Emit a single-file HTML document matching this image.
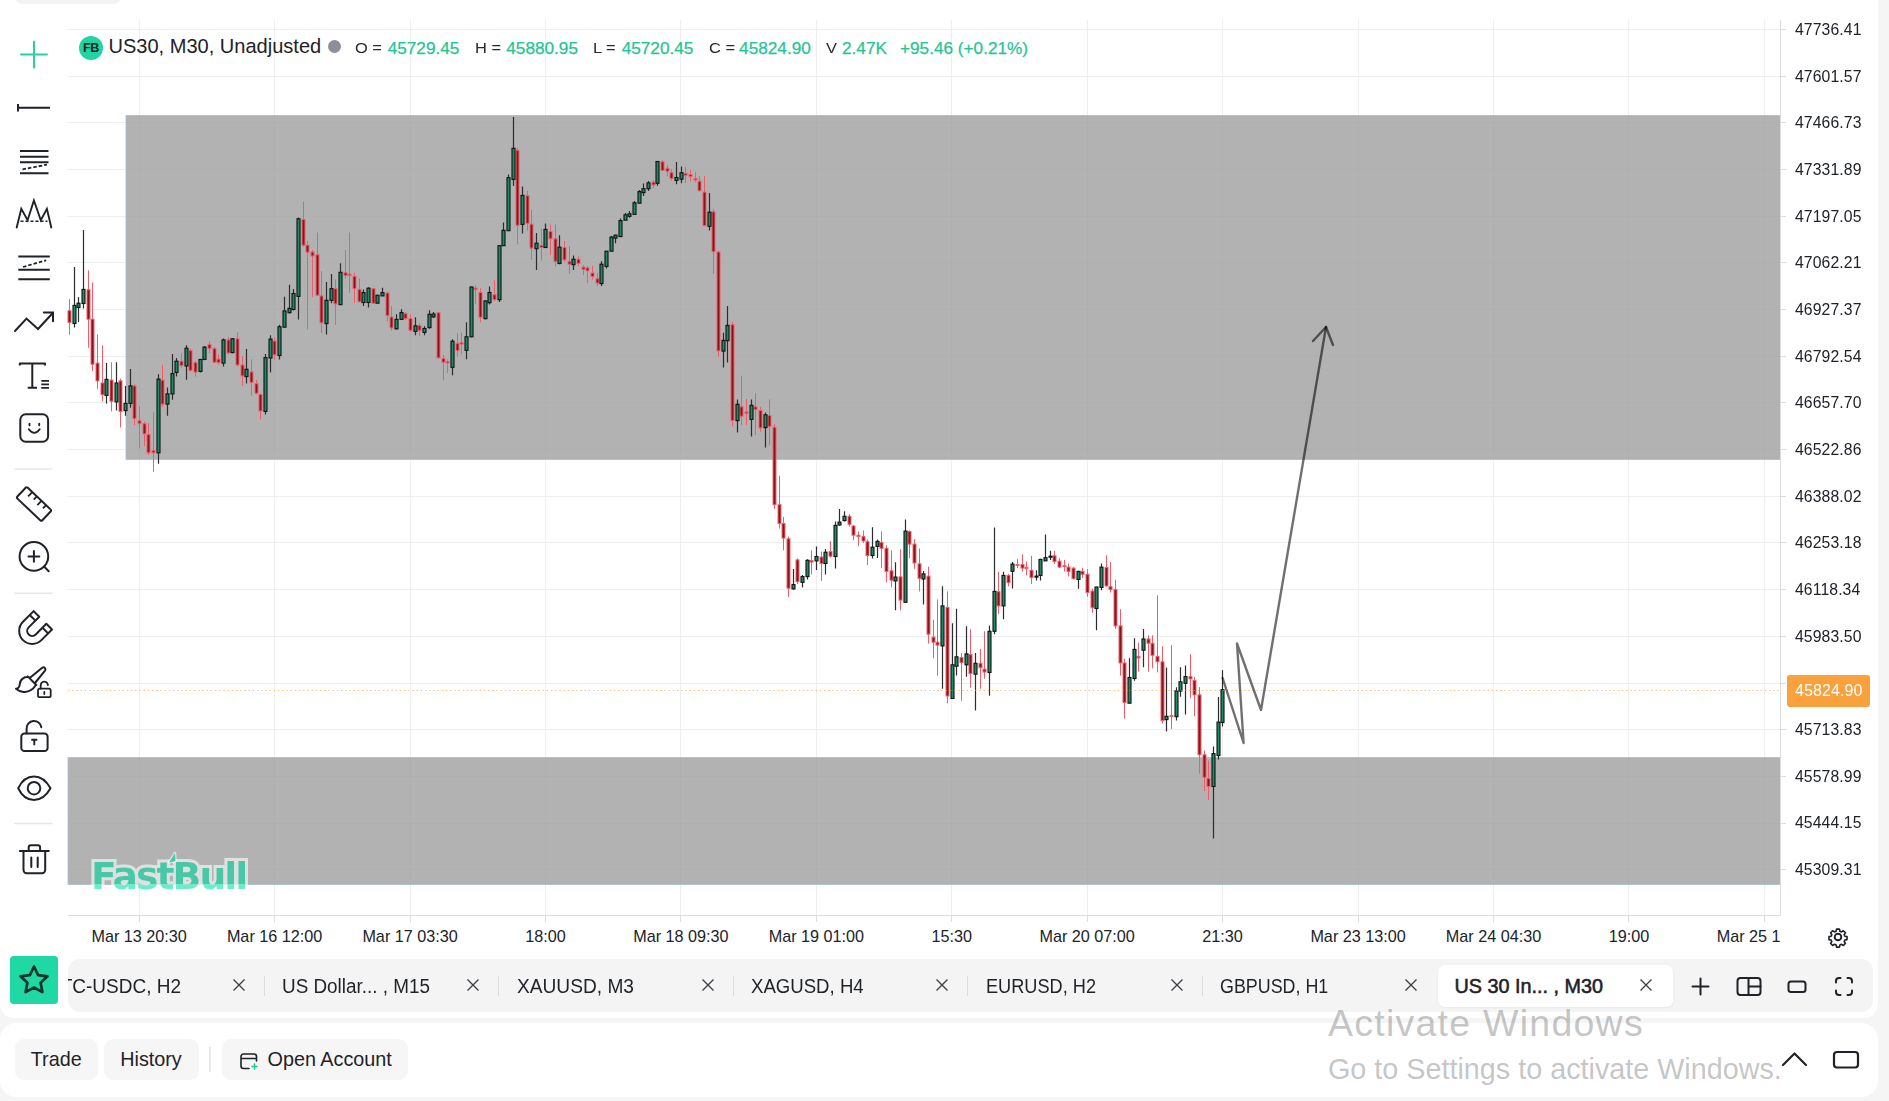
<!DOCTYPE html>
<html lang="en"><head><meta charset="utf-8"><title>US30 M30 chart</title>
<style>
*{box-sizing:border-box;margin:0;padding:0}
html,body{width:1889px;height:1101px;overflow:hidden;background:#f5f5f6;font-family:"Liberation Sans",sans-serif;color:#1f2227}
.main{position:absolute;left:0;top:-20px;width:1878px;height:1037.5px;background:#fff;border-radius:0 0 14px 14px}
.pill{position:absolute;left:14px;top:0;width:108px;height:23.5px;border-radius:9px;background:#f3f3f4}
.chart{position:absolute;left:0;top:0}
.fb{position:absolute;left:79px;top:35.5px;width:24px;height:24px;border-radius:50%;background:#20d4a3;color:#0c2a22;font-weight:bold;font-size:12.5px;display:flex;align-items:center;justify-content:center;letter-spacing:-0.4px}
.sym{position:absolute;left:108.5px;top:34.2px;font-size:20.05px;line-height:24px;color:#1f2227;white-space:nowrap}
.dot{position:absolute;left:328px;top:40px;width:13px;height:13px;border-radius:50%;background:#8e8e9a}
.lg{position:absolute;top:38.4px;font-size:15.5px;line-height:20px;color:#26292e;white-space:nowrap;transform:scaleX(1.06);transform-origin:0 50%}
.lv{position:absolute;top:38px;font-size:17.2px;line-height:20px;color:#1fc592;white-space:nowrap;-webkit-text-stroke:0.25px #1fc592}
.pl{position:absolute;left:1795px;width:80px;font-size:15.75px;line-height:20px;color:#202328;letter-spacing:0.1px}
.cur{position:absolute;left:1786.5px;top:675px;width:83px;height:31.5px;border-radius:3px;background:#f9a13c;color:#fff;font-size:16px;line-height:31.5px;padding-left:8.5px;letter-spacing:0.1px}
.tl{position:absolute;top:926px;width:120px;text-align:center;font-size:16.2px;line-height:20px;color:#202328}
.axisclip{position:absolute;left:0;top:0;width:1780px;height:960px;overflow:hidden}
.star{position:absolute;left:10px;top:956px;width:48px;height:47.5px;border-radius:4px;background:#1fd8a4}
.tabbar{position:absolute;left:68px;top:959px;width:1804.5px;height:52.5px;border-radius:12px;background:#f4f4f5;overflow:hidden}
.tab{position:absolute;top:0;height:52px;width:234.5px;font-size:20px;line-height:52px;color:#1f2227;border-right:0}
.tab:after{content:"";position:absolute;right:0;top:16.5px;height:20px;width:1px;background:#dcdde0}
.tab:nth-child(6):after{display:none}
.tab .tt{position:absolute;left:17.5px;top:0.8px;white-space:nowrap;transform:scaleX(0.937);transform-origin:0 50%}
.tab .tx{position:absolute;left:201.5px;top:19px}
.atab{position:absolute;left:1370px;top:5.5px;width:235px;height:42.5px;border-radius:7px;background:#fff;font-size:20px;line-height:42px;color:#1f2227;box-shadow:0 1px 3px rgba(0,0,0,0.05)}
.atab .tt{position:absolute;left:16.5px;top:0.5px;white-space:nowrap;font-weight:normal;font-size:19.8px;-webkit-text-stroke:0.55px #1f2227}
.atab .tx{position:absolute;left:201px;top:13.5px}
.bottom{position:absolute;left:0;top:1022.5px;width:1878px;height:74.5px;background:#fff;border-radius:16px}
.btn{position:absolute;top:16px;height:41.5px;border-radius:9px;background:#f6f6f7;font-size:19.8px;line-height:41.5px;text-align:center;color:#1f2227}
.sep{position:absolute;left:209px;top:24.5px;width:1.5px;height:25px;background:#e8e9eb}
.aw1{position:absolute;left:1328px;top:1001px;font-size:37.5px;line-height:44px;color:rgba(125,125,125,0.45);white-space:nowrap;letter-spacing:1.25px}
.aw2{position:absolute;left:1328px;top:1052px;font-size:28.75px;line-height:34px;color:rgba(125,125,125,0.45);white-space:nowrap}
.wm,.wm2{position:absolute;left:91px;top:853px;font-size:37.7px;line-height:46px;height:46px;font-weight:bold;font-family:"DejaVu Sans","Liberation Sans",sans-serif;letter-spacing:-1.95px;white-space:nowrap}
.wm{color:#fff;-webkit-text-stroke:6px #fff;opacity:0.6}
.wm2{color:transparent;background:linear-gradient(#49c8a8 0,#49c8a8 31px,#6cecca 31px,#6cecca 46px);-webkit-background-clip:text;background-clip:text}
</style></head><body>
<div class="main"><div class="pill"></div></div>
<svg class="chart" width="1889" height="960" viewBox="0 0 1889 960">
<g stroke="#edeef0" stroke-width="1" fill="none"><path d="M68 29.5H1780"/><path d="M68 76.5H1780"/><path d="M68 122.5H1780"/><path d="M68 169.5H1780"/><path d="M68 216.5H1780"/><path d="M68 262.5H1780"/><path d="M68 309.5H1780"/><path d="M68 356.5H1780"/><path d="M68 402.5H1780"/><path d="M68 449.5H1780"/><path d="M68 496.5H1780"/><path d="M68 542.5H1780"/><path d="M68 589.5H1780"/><path d="M68 636.5H1780"/><path d="M68 683.5H1780"/><path d="M68 729.5H1780"/><path d="M68 776.5H1780"/><path d="M68 823.5H1780"/><path d="M68 869.5H1780"/><path d="M139.5 20V915"/><path d="M274.5 20V915"/><path d="M410.5 20V915"/><path d="M545.5 20V915"/><path d="M680.5 20V915"/><path d="M816.5 20V915"/><path d="M951.5 20V915"/><path d="M1087.5 20V915"/><path d="M1222.5 20V915"/><path d="M1358.5 20V915"/><path d="M1493.5 20V915"/><path d="M1628.5 20V915"/><path d="M1764.5 20V915"/></g>
<g stroke="#dcdde0" stroke-width="1" fill="none"><path d="M1780.5 20V915.5"/><path d="M68 915.5H1780.5"/><path d="M1780 29.5H1786"/><path d="M1780 76.5H1786"/><path d="M1780 122.5H1786"/><path d="M1780 169.5H1786"/><path d="M1780 216.5H1786"/><path d="M1780 262.5H1786"/><path d="M1780 309.5H1786"/><path d="M1780 356.5H1786"/><path d="M1780 402.5H1786"/><path d="M1780 449.5H1786"/><path d="M1780 496.5H1786"/><path d="M1780 542.5H1786"/><path d="M1780 589.5H1786"/><path d="M1780 636.5H1786"/><path d="M1780 683.5H1786"/><path d="M1780 729.5H1786"/><path d="M1780 776.5H1786"/><path d="M1780 823.5H1786"/><path d="M1780 869.5H1786"/><path d="M139.5 915V922"/><path d="M274.5 915V922"/><path d="M410.5 915V922"/><path d="M545.5 915V922"/><path d="M680.5 915V922"/><path d="M816.5 915V922"/><path d="M951.5 915V922"/><path d="M1087.5 915V922"/><path d="M1222.5 915V922"/><path d="M1358.5 915V922"/><path d="M1493.5 915V922"/><path d="M1628.5 915V922"/><path d="M1764.5 915V922"/></g>
<svg x="0" y="0" width="1780" height="915"><rect x="126" y="115.5" width="1700" height="344" fill="#a1a1a1" fill-opacity="0.82" stroke="#a9bcd8" stroke-opacity="0.8" stroke-width="1"/>
<rect x="68" y="757.5" width="1760" height="127" fill="#a1a1a1" fill-opacity="0.82" stroke="#a9bcd8" stroke-opacity="0.8" stroke-width="1"/></svg>
<path d="M69.5 299.1V334.7M88.5 270.3V347.8M92.5 282.4V371.0M97.5 334.4V388.8M102.5 345.3V401.2M111.5 362.3V411.4M120.5 378.7V427.4M134.5 384.5V425.2M139.5 406.3V448.4M144.5 421.5V446.2M148.5 423.0V455.0M153.5 412.1V471.7M162.5 364.6V407.0M181.5 353.2V368.1M190.5 348.6V371.8M195.5 360.8V376.5M209.5 341.3V353.0M214.5 347.1V363.1M218.5 354.4V364.6M228.5 337.0V354.4M237.5 332.3V366.4M242.5 356.2V386.0M251.5 359.5V395.8M256.5 379.9V394.5M260.5 393.2V419.3M274.5 337.6V359.9M303.5 201.4V247.0M307.5 240.8V329.4M312.5 250.0V297.0M317.5 232.5V296.0M321.5 271.2V333.0M335.5 279.2V325.0M345.5 249.7V278.5M349.5 232.5V293.0M354.5 272.7V303.2M359.5 278.5V302.5M373.5 288.0V303.9M387.5 291.6V321.4M391.5 306.1V330.8M405.5 312.1V320.1M410.5 314.3V331.7M419.5 323.0V336.1M438.5 312.1V358.6M443.5 355.0V380.4M447.5 359.3V373.1M457.5 333.2V356.4M461.5 332.4V354.2M475.5 285.2V304.1M480.5 288.1V322.3M494.5 280.1V301.2M517.5 147.9V244.5M527.5 190.7V230.7M531.5 209.6V259.8M541.5 228.6V260.6M550.5 224.3V254.8M555.5 224.3V266.4M564.5 241.0V262.1M569.5 246.1V273.7M578.5 256.2V266.4M583.5 265.0V275.1M587.5 266.4V283.1M592.5 265.7V279.5M597.5 273.0V286.0M653.5 180.0V188.0M662.5 160.3V171.2M667.5 165.4V176.3M671.5 169.1V180.7M685.5 166.9V182.9M690.5 169.8V181.4M695.5 172.0V182.1M699.5 176.2V192.1M704.5 176.2V226.3M713.5 208.8V274.2M718.5 250.6V356.7M732.5 321.8V426.4M741.5 375.6V425.0M746.5 398.8V425.0M755.5 393.0V435.1M760.5 406.8V432.2M769.5 399.5V445.3M774.5 424.3V509.0M779.5 475.6V528.6M783.5 517.0V550.4M788.5 536.6V596.9M797.5 558.4V583.9M811.5 550.4V574.4M821.5 551.6V580.9M830.5 541.0V557.7M849.5 514.1V526.5M853.5 525.0V540.3M858.5 531.5V546.1M863.5 530.4V543.2M867.5 539.5V565.0M881.5 531.3V567.9M886.5 545.3V582.4M891.5 550.4V587.5M900.5 549.2V610.3M909.5 530.3V558.0M914.5 539.1V568.8M919.5 548.5V591.4M928.5 566.7V643.5M933.5 619.7V658.2M937.5 599.4V675.6M947.5 591.4V703.4M961.5 653.1V701.1M970.5 629.2V687.6M980.5 648.8V688.7M984.5 631.3V678.6M998.5 571.8V613.9M1008.5 573.9V586.3M1017.5 558.7V568.1M1022.5 554.3V571.8M1026.5 561.6V575.4M1031.5 555.8V584.1M1054.5 550.7V563.8M1059.5 558.3V568.1M1064.5 559.8V571.4M1068.5 563.4V576.5M1073.5 567.1V579.4M1082.5 567.8V578.0M1087.5 569.2V596.8M1092.5 588.8V612.8M1106.5 555.4V586.7M1110.5 562.0V592.5M1115.5 579.7V628.8M1120.5 609.2V675.6M1124.5 658.6V718.5M1138.5 642.6V671.7M1148.5 635.3V671.7M1152.5 635.3V668.3M1157.5 595.4V672.3M1162.5 646.2V723.5M1171.5 645.1V728.9M1190.5 654.2V698.1M1194.5 677.1V716.3M1199.5 687.2V773.7M1204.5 750.4V791.1M1208.5 760.6V800.0" stroke="#f25c68" stroke-width="1" fill="none"/>
<g fill="#86161e" stroke="#f0606b" stroke-width="1"><rect x="68.0" y="310.7" width="3" height="11.7"/><rect x="87.0" y="289.7" width="3" height="29.5"/><rect x="91.0" y="319.2" width="3" height="45.0"/><rect x="96.0" y="363.1" width="3" height="17.8"/><rect x="101.0" y="383.0" width="3" height="11.7"/><rect x="110.0" y="380.1" width="3" height="21.1"/><rect x="119.0" y="380.9" width="3" height="30.5"/><rect x="133.0" y="385.9" width="3" height="32.7"/><rect x="138.0" y="420.8" width="3" height="2.9"/><rect x="143.0" y="423.7" width="3" height="10.2"/><rect x="147.0" y="434.6" width="3" height="18.2"/><rect x="152.0" y="450.6" width="3" height="2.2"/><rect x="161.0" y="380.1" width="3" height="24.0"/><rect x="180.0" y="361.2" width="3" height="4.4"/><rect x="189.0" y="350.6" width="3" height="19.8"/><rect x="194.0" y="362.7" width="3" height="9.4"/><rect x="208.0" y="344.5" width="3" height="4.1"/><rect x="213.0" y="348.6" width="3" height="13.7"/><rect x="217.0" y="359.1" width="3" height="3.6"/><rect x="227.0" y="339.9" width="3" height="13.1"/><rect x="236.0" y="338.8" width="3" height="26.2"/><rect x="241.0" y="365.0" width="3" height="10.9"/><rect x="250.0" y="371.9" width="3" height="10.5"/><rect x="255.0" y="383.7" width="3" height="9.5"/><rect x="259.0" y="394.5" width="3" height="16.5"/><rect x="273.0" y="341.0" width="3" height="13.8"/><rect x="302.0" y="219.5" width="3" height="25.7"/><rect x="306.0" y="245.2" width="3" height="7.0"/><rect x="311.0" y="252.0" width="3" height="4.0"/><rect x="316.0" y="254.8" width="3" height="40.4"/><rect x="320.0" y="295.9" width="3" height="26.9"/><rect x="334.0" y="288.7" width="3" height="15.2"/><rect x="344.0" y="272.7" width="3" height="2.9"/><rect x="348.0" y="274.1" width="3" height="1.5"/><rect x="353.0" y="276.3" width="3" height="12.4"/><rect x="358.0" y="289.4" width="3" height="12.4"/><rect x="372.0" y="288.7" width="3" height="14.5"/><rect x="386.0" y="293.0" width="3" height="22.6"/><rect x="390.0" y="317.0" width="3" height="10.9"/><rect x="404.0" y="313.6" width="3" height="5.0"/><rect x="409.0" y="318.6" width="3" height="11.7"/><rect x="418.0" y="325.6" width="3" height="4.7"/><rect x="437.0" y="312.8" width="3" height="45.1"/><rect x="442.0" y="358.6" width="3" height="3.6"/><rect x="446.0" y="361.5" width="3" height="1.5"/><rect x="456.0" y="343.3" width="3" height="7.3"/><rect x="460.0" y="342.6" width="3" height="1.5"/><rect x="474.0" y="288.1" width="3" height="1.5"/><rect x="479.0" y="292.5" width="3" height="24.7"/><rect x="493.0" y="294.7" width="3" height="5.0"/><rect x="516.0" y="150.3" width="3" height="75.0"/><rect x="526.0" y="195.8" width="3" height="27.6"/><rect x="530.0" y="224.2" width="3" height="23.9"/><rect x="540.0" y="245.3" width="3" height="2.2"/><rect x="549.0" y="231.5" width="3" height="7.3"/><rect x="554.0" y="238.8" width="3" height="22.5"/><rect x="563.0" y="247.5" width="3" height="12.4"/><rect x="568.0" y="261.3" width="3" height="2.9"/><rect x="577.0" y="259.2" width="3" height="4.3"/><rect x="582.0" y="267.1" width="3" height="2.2"/><rect x="586.0" y="267.9" width="3" height="2.9"/><rect x="591.0" y="273.0" width="3" height="3.6"/><rect x="596.0" y="278.8" width="3" height="4.3"/><rect x="652.0" y="182.1" width="3" height="2.9"/><rect x="661.0" y="161.8" width="3" height="8.7"/><rect x="666.0" y="168.3" width="3" height="2.9"/><rect x="670.0" y="172.7" width="3" height="5.8"/><rect x="684.0" y="173.4" width="3" height="2.2"/><rect x="689.0" y="174.6" width="3" height="2.0"/><rect x="694.0" y="178.5" width="3" height="1.5"/><rect x="698.0" y="181.2" width="3" height="9.5"/><rect x="703.0" y="192.1" width="3" height="33.5"/><rect x="712.0" y="211.8" width="3" height="39.9"/><rect x="717.0" y="252.0" width="3" height="98.9"/><rect x="731.0" y="324.7" width="3" height="95.9"/><rect x="740.0" y="406.8" width="3" height="9.4"/><rect x="745.0" y="411.9" width="3" height="1.4"/><rect x="754.0" y="406.8" width="3" height="2.9"/><rect x="759.0" y="410.4" width="3" height="17.5"/><rect x="768.0" y="415.5" width="3" height="10.9"/><rect x="773.0" y="427.2" width="3" height="77.5"/><rect x="778.0" y="504.7" width="3" height="18.9"/><rect x="782.0" y="523.6" width="3" height="14.5"/><rect x="787.0" y="538.8" width="3" height="49.4"/><rect x="796.0" y="559.9" width="3" height="21.8"/><rect x="810.0" y="560.6" width="3" height="1.5"/><rect x="820.0" y="557.0" width="3" height="6.5"/><rect x="829.0" y="551.6" width="3" height="4.6"/><rect x="848.0" y="516.3" width="3" height="8.0"/><rect x="852.0" y="526.0" width="3" height="9.2"/><rect x="857.0" y="535.2" width="3" height="1.4"/><rect x="862.0" y="536.6" width="3" height="4.4"/><rect x="866.0" y="541.7" width="3" height="13.8"/><rect x="880.0" y="542.4" width="3" height="5.9"/><rect x="885.0" y="548.3" width="3" height="23.2"/><rect x="890.0" y="570.8" width="3" height="9.4"/><rect x="899.0" y="576.8" width="3" height="23.3"/><rect x="908.0" y="531.5" width="3" height="12.6"/><rect x="913.0" y="544.1" width="3" height="18.9"/><rect x="918.0" y="563.8" width="3" height="14.5"/><rect x="927.0" y="576.1" width="3" height="58.1"/><rect x="932.0" y="637.1" width="3" height="5.1"/><rect x="936.0" y="642.2" width="3" height="2.9"/><rect x="946.0" y="607.4" width="3" height="88.6"/><rect x="960.0" y="657.5" width="3" height="5.1"/><rect x="969.0" y="654.6" width="3" height="18.9"/><rect x="979.0" y="663.3" width="3" height="4.4"/><rect x="983.0" y="669.1" width="3" height="2.9"/><rect x="997.0" y="591.7" width="3" height="14.2"/><rect x="1007.0" y="575.4" width="3" height="7.3"/><rect x="1016.0" y="564.5" width="3" height="1.0"/><rect x="1021.0" y="564.5" width="3" height="3.6"/><rect x="1025.0" y="567.4" width="3" height="1.0"/><rect x="1030.0" y="570.3" width="3" height="7.3"/><rect x="1053.0" y="555.8" width="3" height="5.8"/><rect x="1058.0" y="561.2" width="3" height="5.9"/><rect x="1063.0" y="565.6" width="3" height="1.0"/><rect x="1067.0" y="567.1" width="3" height="4.3"/><rect x="1072.0" y="568.1" width="3" height="10.6"/><rect x="1081.0" y="571.4" width="3" height="2.9"/><rect x="1086.0" y="574.3" width="3" height="18.2"/><rect x="1091.0" y="591.0" width="3" height="16.7"/><rect x="1105.0" y="567.5" width="3" height="18.4"/><rect x="1109.0" y="586.7" width="3" height="2.9"/><rect x="1114.0" y="589.6" width="3" height="36.3"/><rect x="1119.0" y="625.9" width="3" height="37.1"/><rect x="1123.0" y="663.0" width="3" height="39.5"/><rect x="1137.0" y="656.4" width="3" height="1.5"/><rect x="1147.0" y="639.0" width="3" height="4.3"/><rect x="1151.0" y="643.3" width="3" height="12.0"/><rect x="1156.0" y="656.4" width="3" height="5.4"/><rect x="1161.0" y="661.8" width="3" height="58.8"/><rect x="1170.0" y="715.6" width="3" height="1.0"/><rect x="1189.0" y="676.6" width="3" height="2.3"/><rect x="1193.0" y="680.4" width="3" height="14.5"/><rect x="1198.0" y="694.9" width="3" height="59.9"/><rect x="1203.0" y="754.8" width="3" height="22.5"/><rect x="1207.0" y="778.5" width="3" height="8.0"/></g>
<path d="M74.5 267.1V327.4M78.5 296.9V322.1M83.5 230.1V308.6M106.5 363.1V403.4M116.5 362.3V410.6M125.5 385.9V415.7M130.5 368.9V407.7M158.5 374.3V463.7M167.5 387.4V415.7M172.5 354.0V399.7M176.5 358.0V376.5M186.5 345.3V379.7M200.5 359.1V372.4M204.5 346.0V360.2M223.5 338.4V366.6M232.5 338.1V353.3M246.5 349.0V383.6M265.5 354.1V414.5M270.5 335.2V372.5M279.5 324.7V359.4M284.5 296.7V327.2M289.5 284.8V313.4M293.5 289.1V310.5M298.5 217.5V319.6M326.5 282.1V334.4M331.5 274.1V303.2M340.5 263.2V304.7M363.5 289.4V306.1M368.5 287.2V307.6M377.5 294.9V303.2M382.5 287.7V295.9M396.5 314.3V329.5M401.5 309.2V320.1M415.5 317.2V335.3M424.5 326.2V335.3M429.5 310.2V328.8M433.5 312.1V317.9M452.5 339.3V375.3M466.5 322.3V359.3M471.5 286.4V337.2M485.5 300.5V319.4M489.5 286.4V304.4M499.5 245.3V301.9M503.5 222.4V245.7M508.5 174.5V230.7M513.5 116.9V186.1M522.5 186.4V233.6M536.5 233.0V270.0M545.5 223.6V247.5M559.5 235.2V264.2M573.5 255.5V270.0M601.5 261.3V286.0M606.5 251.2V268.6M611.5 235.9V251.2M615.5 234.4V243.2M620.5 218.5V236.6M625.5 213.1V220.2M629.5 210.9V217.7M634.5 201.0V214.4M639.5 190.1V203.2M643.5 183.6V195.9M648.5 181.0V191.1M657.5 161.5V185.8M676.5 162.1V184.3M681.5 166.4V183.3M709.5 192.9V230.6M723.5 332.7V367.6M727.5 306.1V362.5M737.5 399.5V432.5M751.5 399.5V436.6M765.5 412.6V447.5M793.5 569.0V589.7M802.5 575.1V587.5M807.5 559.2V579.5M816.5 546.4V570.0M825.5 549.0V574.4M835.5 521.4V568.6M839.5 509.0V525.7M844.5 511.2V521.4M872.5 527.2V558.4M877.5 539.5V558.0M895.5 562.3V610.3M905.5 519.4V603.0M923.5 571.0V604.4M942.5 586.3V688.7M952.5 623.3V698.9M956.5 608.8V675.6M966.5 626.2V676.8M975.5 653.1V710.5M989.5 625.5V695.7M994.5 527.4V634.2M1003.5 571.8V619.3M1012.5 562.0V588.5M1036.5 570.3V580.5M1040.5 558.7V580.5M1045.5 534.4V561.1M1050.5 550.7V560.1M1078.5 570.7V588.8M1096.5 586.7V630.3M1101.5 563.4V590.3M1129.5 658.2V703.2M1134.5 638.3V680.7M1143.5 629.1V667.3M1166.5 667.6V731.5M1176.5 687.2V720.6M1180.5 667.3V696.7M1185.5 665.4V714.4M1213.5 746.4V838.4M1218.5 697.0V759.4M1222.5 670.2V726.5" stroke="#2a2c2f" stroke-width="1.2" fill="none"/>
<g fill="#1c8c63" stroke="#101214" stroke-width="1.1"><rect x="73.0" y="305.4" width="3" height="18.1"/><rect x="77.0" y="303.2" width="3" height="4.3"/><rect x="82.0" y="289.4" width="3" height="14.1"/><rect x="105.0" y="379.4" width="3" height="16.0"/><rect x="115.0" y="383.0" width="3" height="18.9"/><rect x="124.0" y="403.4" width="3" height="7.2"/><rect x="129.0" y="385.9" width="3" height="17.5"/><rect x="157.0" y="379.1" width="3" height="73.7"/><rect x="166.0" y="393.9" width="3" height="10.2"/><rect x="171.0" y="373.6" width="3" height="20.3"/><rect x="175.0" y="361.2" width="3" height="11.2"/><rect x="185.0" y="348.2" width="3" height="17.8"/><rect x="199.0" y="359.4" width="3" height="12.0"/><rect x="203.0" y="347.1" width="3" height="12.3"/><rect x="222.0" y="339.9" width="3" height="23.2"/><rect x="231.0" y="338.8" width="3" height="13.8"/><rect x="245.0" y="369.3" width="3" height="7.3"/><rect x="264.0" y="357.6" width="3" height="53.8"/><rect x="269.0" y="339.1" width="3" height="18.9"/><rect x="278.0" y="326.7" width="3" height="28.8"/><rect x="283.0" y="310.9" width="3" height="16.3"/><rect x="288.0" y="308.3" width="3" height="4.4"/><rect x="292.0" y="293.5" width="3" height="16.0"/><rect x="297.0" y="218.8" width="3" height="77.6"/><rect x="325.0" y="300.3" width="3" height="23.3"/><rect x="330.0" y="288.7" width="3" height="11.6"/><rect x="339.0" y="272.3" width="3" height="32.4"/><rect x="362.0" y="292.6" width="3" height="9.9"/><rect x="367.0" y="288.2" width="3" height="14.3"/><rect x="376.0" y="295.2" width="3" height="8.0"/><rect x="381.0" y="292.6" width="3" height="3.3"/><rect x="395.0" y="319.4" width="3" height="9.4"/><rect x="400.0" y="312.5" width="3" height="6.9"/><rect x="414.0" y="325.9" width="3" height="5.5"/><rect x="423.0" y="328.5" width="3" height="3.9"/><rect x="428.0" y="314.3" width="3" height="13.3"/><rect x="432.0" y="314.0" width="3" height="2.9"/><rect x="451.0" y="341.2" width="3" height="26.1"/><rect x="465.0" y="336.8" width="3" height="13.5"/><rect x="470.0" y="287.0" width="3" height="49.8"/><rect x="484.0" y="300.9" width="3" height="17.7"/><rect x="488.0" y="292.5" width="3" height="10.2"/><rect x="498.0" y="245.7" width="3" height="54.0"/><rect x="502.0" y="230.3" width="3" height="15.4"/><rect x="507.0" y="177.7" width="3" height="53.0"/><rect x="512.0" y="148.3" width="3" height="31.1"/><rect x="521.0" y="195.4" width="3" height="29.0"/><rect x="535.0" y="243.2" width="3" height="5.5"/><rect x="544.0" y="229.4" width="3" height="18.1"/><rect x="558.0" y="247.2" width="3" height="16.3"/><rect x="572.0" y="259.2" width="3" height="5.5"/><rect x="600.0" y="264.2" width="3" height="19.4"/><rect x="605.0" y="251.2" width="3" height="15.2"/><rect x="610.0" y="237.1" width="3" height="14.1"/><rect x="614.0" y="235.2" width="3" height="2.9"/><rect x="619.0" y="220.6" width="3" height="16.0"/><rect x="624.0" y="214.8" width="3" height="5.4"/><rect x="628.0" y="213.8" width="3" height="2.5"/><rect x="633.0" y="202.8" width="3" height="11.6"/><rect x="638.0" y="191.6" width="3" height="11.6"/><rect x="642.0" y="188.7" width="3" height="3.9"/><rect x="647.0" y="182.9" width="3" height="5.8"/><rect x="656.0" y="161.5" width="3" height="21.8"/><rect x="675.0" y="177.5" width="3" height="2.9"/><rect x="680.0" y="172.7" width="3" height="6.5"/><rect x="708.0" y="212.2" width="3" height="14.1"/><rect x="722.0" y="340.4" width="3" height="10.7"/><rect x="726.0" y="325.4" width="3" height="15.3"/><rect x="736.0" y="404.3" width="3" height="16.3"/><rect x="750.0" y="405.3" width="3" height="14.1"/><rect x="764.0" y="414.8" width="3" height="12.8"/><rect x="792.0" y="584.6" width="3" height="4.3"/><rect x="801.0" y="576.6" width="3" height="5.8"/><rect x="806.0" y="560.3" width="3" height="16.3"/><rect x="815.0" y="556.5" width="3" height="4.4"/><rect x="824.0" y="552.2" width="3" height="11.3"/><rect x="834.0" y="525.4" width="3" height="31.1"/><rect x="838.0" y="522.1" width="3" height="2.9"/><rect x="843.0" y="516.3" width="3" height="4.3"/><rect x="871.0" y="547.2" width="3" height="8.3"/><rect x="876.0" y="541.4" width="3" height="5.0"/><rect x="894.0" y="577.1" width="3" height="3.8"/><rect x="904.0" y="531.1" width="3" height="71.2"/><rect x="922.0" y="573.9" width="3" height="5.1"/><rect x="941.0" y="605.9" width="3" height="40.0"/><rect x="951.0" y="664.8" width="3" height="33.7"/><rect x="955.0" y="656.8" width="3" height="9.4"/><rect x="965.0" y="653.9" width="3" height="10.9"/><rect x="974.0" y="663.3" width="3" height="10.9"/><rect x="988.0" y="631.3" width="3" height="41.2"/><rect x="993.0" y="591.4" width="3" height="39.9"/><rect x="1002.0" y="575.4" width="3" height="30.5"/><rect x="1011.0" y="564.1" width="3" height="7.2"/><rect x="1035.0" y="576.1" width="3" height="1.0"/><rect x="1039.0" y="559.4" width="3" height="16.0"/><rect x="1044.0" y="557.7" width="3" height="3.2"/><rect x="1049.0" y="556.2" width="3" height="1.0"/><rect x="1077.0" y="571.4" width="3" height="8.0"/><rect x="1095.0" y="587.0" width="3" height="21.5"/><rect x="1100.0" y="567.1" width="3" height="20.3"/><rect x="1128.0" y="677.5" width="3" height="25.7"/><rect x="1133.0" y="649.4" width="3" height="29.1"/><rect x="1142.0" y="639.0" width="3" height="11.2"/><rect x="1165.0" y="716.3" width="3" height="3.3"/><rect x="1175.0" y="690.9" width="3" height="25.8"/><rect x="1179.0" y="681.8" width="3" height="9.3"/><rect x="1184.0" y="676.6" width="3" height="6.7"/><rect x="1212.0" y="753.6" width="3" height="32.9"/><rect x="1217.0" y="722.1" width="3" height="33.4"/><rect x="1221.0" y="689.7" width="3" height="32.8"/></g>
<path d="M68 690.5H1780" stroke="#f7a243" stroke-opacity="0.7" stroke-width="1" stroke-dasharray="1.3 2.9" fill="none"/>
<g stroke="#000" stroke-opacity="0.56" stroke-width="2.4" fill="none" stroke-linejoin="round" stroke-linecap="round"><path d="M1222.6 678L1243.6 743L1237 643.5L1261 710L1326 327"/><path d="M1313 341L1326 327L1333 345"/></g>
</svg>
<div class="wm">FastBull</div><div class="wm2">FastBull</div>
<svg style="position:absolute;left:160px;top:848px" width="24" height="18" viewBox="0 0 24 18"><path d="M9 14.500L15 5L15.500 13Z" fill="#49c8a8" stroke="rgba(255,255,255,0.6)" stroke-width="2.5" stroke-linejoin="round" paint-order="stroke"/></svg>
<div class="fb">FB</div><div class="sym">US30, M30, Unadjusted</div><div class="dot"></div>
<span class="lg" style="left:355.3px">O =</span><span class="lv" style="left:387.7px">45729.45</span>
<span class="lg" style="left:474.7px">H =</span><span class="lv" style="left:506.3px">45880.95</span>
<span class="lg" style="left:593.3px">L =</span><span class="lv" style="left:621.7px">45720.45</span>
<span class="lg" style="left:708.6px">C =</span><span class="lv" style="left:739.1px">45824.90</span>
<span class="lg" style="left:825.7px">V</span><span class="lv" style="left:842px">2.47K</span>
<span class="lv" style="left:900px">+95.46 (+0.21%)</span>
<div class="pl" style="top:19.8px">47736.41</div><div class="pl" style="top:66.5px">47601.57</div><div class="pl" style="top:113.2px">47466.73</div><div class="pl" style="top:159.8px">47331.89</div><div class="pl" style="top:206.5px">47197.05</div><div class="pl" style="top:253.2px">47062.21</div><div class="pl" style="top:299.9px">46927.37</div><div class="pl" style="top:346.6px">46792.54</div><div class="pl" style="top:393.2px">46657.70</div><div class="pl" style="top:439.9px">46522.86</div><div class="pl" style="top:486.6px">46388.02</div><div class="pl" style="top:533.3px">46253.18</div><div class="pl" style="top:580.0px">46118.34</div><div class="pl" style="top:626.6px">45983.50</div><div class="pl" style="top:720.0px">45713.83</div><div class="pl" style="top:766.7px">45578.99</div><div class="pl" style="top:813.4px">45444.15</div><div class="pl" style="top:860.0px">45309.31</div>
<div class="cur">45824.90</div>
<div class="axisclip"><div class="tl" style="left:79.2px">Mar 13 20:30</div><div class="tl" style="left:214.6px">Mar 16 12:00</div><div class="tl" style="left:350.1px">Mar 17 03:30</div><div class="tl" style="left:485.5px">18:00</div><div class="tl" style="left:620.9px">Mar 18 09:30</div><div class="tl" style="left:756.4px">Mar 19 01:00</div><div class="tl" style="left:891.8px">15:30</div><div class="tl" style="left:1027.2px">Mar 20 07:00</div><div class="tl" style="left:1162.6px">21:30</div><div class="tl" style="left:1298.1px">Mar 23 13:00</div><div class="tl" style="left:1433.5px">Mar 24 04:30</div><div class="tl" style="left:1568.9px">19:00</div><div class="tl" style="left:1704.4px">Mar 25 13:30</div></div>
<svg style="position:absolute;left:0;top:0" width="68" height="900" viewBox="0 0 68 900" fill="none" stroke="#1f2227" stroke-width="2" stroke-linecap="round" stroke-linejoin="round">
<path d="M21 54.500H47M34 41.500V67.500" stroke="#28d1a4" stroke-width="2"/>
<path d="M18 107.700H50M18 104V111.500" stroke-linecap="butt"/>
<path d="M20 151H48.500M20 156.700H48.500M20 162.200H48.500M20 173.200H48.500" stroke-linecap="butt"/>
<path d="M22.500 169.300L47 164.700" stroke-dasharray="3.500 2" stroke-linecap="butt" stroke-width="1.800"/>
<path d="M16.700 227.500L21.300 208.800L27.600 220.200L33.900 200.500L40.800 220.200L46.900 208.800L51.300 227.500" stroke-width="1.900" stroke-linejoin="miter"/>
<path d="M20.500 221.300H47.500" stroke-dasharray="3 2" stroke-linecap="butt" stroke-width="1.600"/>
<path d="M18.300 256.500H49.800M18.300 269.800H49.800M18.300 279.200H49.800" stroke-linecap="butt"/>
<path d="M23 267L46.200 260.300" stroke-dasharray="3.500 2" stroke-linecap="butt" stroke-width="1.800"/>
<path d="M15 331L26.500 318.600L38 329L52.800 313M43.800 312.600H53V321.200" stroke-linejoin="miter"/>
<path d="M19.800 365.500V363.500H45V365.500M32.300 363.500V387.700M27.700 387.700H37" stroke-linecap="butt"/>
<path d="M41.300 380.800H49M41.300 384.300H49M41.300 387.800H49" stroke-linecap="butt" stroke-width="1.700"/>
<rect x="20.300" y="414.300" width="27.800" height="27.400" rx="5.500"/>
<path d="M29.500 423.700V425.200M39.200 423.700V425.200M28.800 429.200Q34.300 436.500 39.700 429.200" stroke-width="1.900"/>
<path d="M15 469H52" stroke="#e6e7e9" stroke-width="1.500"/>
<g transform="translate(34 504) rotate(43.500)"><rect x="-17.200" y="-7.500" width="34.400" height="15" rx="1.500"/><path d="M-9.500 -7.500V-1.500M-3.200 -7.500V-3M3.200 -7.500V-1.500M9.500 -7.500V-3" stroke-linecap="butt" stroke-width="1.800"/></g>
<circle cx="33.900" cy="556.400" r="14.300"/><path d="M28.500 556.400H39.300M33.900 551V561.800M44.300 566.800L48.700 571.200"/>
<path d="M15 593.300H52" stroke="#e6e7e9" stroke-width="1.500"/>
<g transform="translate(32.200 630.900) rotate(45)"><path d="M-13 -15V0A13 13 0 0 0 13 0V-15H5V0A5 5 0 0 1 -5 0V-15Z"/><path d="M-13 -9.500H-5M5 -9.500H13" stroke-linecap="butt"/></g>
<path d="M30 677.800L42.200 667.800A2 2 0 0 1 45 670.600L35 683" />
<path d="M27.700 676.400L36.300 685M29.500 677.500C25 676 20 679 19.800 684C19.600 687.500 18 688.500 16 688.800C20 692.500 27 693 31 690C34 687.800 35.500 686 35.800 684.300" />
<rect x="38" y="688.700" width="12.700" height="8.500" rx="1.800" stroke-width="1.800"/><path d="M40.700 688.500V685.500A3.600 3.600 0 0 1 47.900 685" stroke-width="1.800"/><path d="M44.300 692V694" stroke-width="1.800"/>
<rect x="21.300" y="733.600" width="26.300" height="17.500" rx="3.200"/><path d="M26.600 733.400V728.500A7.400 7.400 0 0 1 41.300 727.200"/><path d="M31.300 739.800H37.300M34.300 739.800V745.300" stroke-linecap="butt" stroke-width="1.900"/>
<path d="M18.200 788.200C22 780.200 27.500 776.500 34 776.500C40.500 776.500 46 780.200 50.500 788.200C46 796.200 40.500 799.900 34 799.900C27.500 799.900 22 796.200 18.200 788.200Z"/><circle cx="34" cy="788.200" r="6.300"/>
<path d="M15 823.500H52" stroke="#e6e7e9" stroke-width="1.500"/>
<path d="M19.800 851H48.800M28.700 850.500V847.500A2.300 2.300 0 0 1 31 845.200H37.800A2.300 2.300 0 0 1 40.100 847.500V850.500M23.500 851.500V870A3.200 3.200 0 0 0 26.700 873.200H42A3.200 3.200 0 0 0 45.200 870V851.500M31.300 857.500V867M37.700 857.500V867"/>
</svg>

<div class="star"><svg width="48" height="48" viewBox="0 0 48 48"><path d="M24 10.5l4.1 8.6 9.4 1.2-6.9 6.5 1.8 9.3-8.4-4.6-8.4 4.6 1.8-9.3-6.9-6.5 9.4-1.2z" fill="none" stroke="#12352c" stroke-width="2.7" stroke-linejoin="round"/></svg></div>
<div class="tabbar"><div class="tab" style="left:-38.0px"><span class="tt" style="transform:scaleX(0.95)">BTC-USDC, H2</span><svg class="tx" width="14" height="14" viewBox="0 0 14 14"><path d="M1.5 1.5L12.5 12.5M12.5 1.5L1.5 12.5" stroke="#3a3d42" stroke-width="1.3" fill="none"/></svg></div><div class="tab" style="left:196.5px"><span class="tt" style="transform:scaleX(0.944)">US Dollar... , M15</span><svg class="tx" width="14" height="14" viewBox="0 0 14 14"><path d="M1.5 1.5L12.5 12.5M12.5 1.5L1.5 12.5" stroke="#3a3d42" stroke-width="1.3" fill="none"/></svg></div><div class="tab" style="left:431.0px"><span class="tt" style="transform:scaleX(0.957)">XAUUSD, M3</span><svg class="tx" width="14" height="14" viewBox="0 0 14 14"><path d="M1.5 1.5L12.5 12.5M12.5 1.5L1.5 12.5" stroke="#3a3d42" stroke-width="1.3" fill="none"/></svg></div><div class="tab" style="left:665.5px"><span class="tt" style="transform:scaleX(0.93)">XAGUSD, H4</span><svg class="tx" width="14" height="14" viewBox="0 0 14 14"><path d="M1.5 1.5L12.5 12.5M12.5 1.5L1.5 12.5" stroke="#3a3d42" stroke-width="1.3" fill="none"/></svg></div><div class="tab" style="left:900.0px"><span class="tt" style="transform:scaleX(0.908)">EURUSD, H2</span><svg class="tx" width="14" height="14" viewBox="0 0 14 14"><path d="M1.5 1.5L12.5 12.5M12.5 1.5L1.5 12.5" stroke="#3a3d42" stroke-width="1.3" fill="none"/></svg></div><div class="tab" style="left:1134.5px"><span class="tt" style="transform:scaleX(0.894)">GBPUSD, H1</span><svg class="tx" width="14" height="14" viewBox="0 0 14 14"><path d="M1.5 1.5L12.5 12.5M12.5 1.5L1.5 12.5" stroke="#3a3d42" stroke-width="1.3" fill="none"/></svg></div>
<div class="atab"><span class="tt">US 30 In... , M30</span><svg class="tx" width="14" height="14" viewBox="0 0 14 14"><path d="M1.5 1.5L12.5 12.5M12.5 1.5L1.5 12.5" stroke="#3a3d42" stroke-width="1.3" fill="none"/></svg></div>
<svg style="position:absolute;left:1610.5px;top:0.5px" width="194" height="52" viewBox="0 0 194 52" fill="none" stroke="#1f2227" stroke-width="2" stroke-linecap="round" stroke-linejoin="round">
<path d="M13.5 26.5H29.5M21.5 18.5V34.5"/>
<rect x="58.500" y="18" width="23" height="17" rx="3"/><path d="M69.500 18V35M69.500 26.500H81.500"/>
<rect x="109.500" y="21.500" width="17" height="10.500" rx="2.500"/>
<path d="M157 22.500V21a3 3 0 0 1 3-3h1.500M168.500 18H170a3 3 0 0 1 3 3v1.500M173 30.500V32a3 3 0 0 1-3 3h-1.500M161.500 35H160a3 3 0 0 1-3-3v-1.500"/>
</svg>
</div>
<svg style="position:absolute;left:1826px;top:925px" width="24" height="24" viewBox="0 0 24 24" fill="none" stroke="#1f2227" stroke-width="1.9" stroke-linejoin="round"><circle cx="12" cy="12" r="3.3"/><path d="M10.300 2.800h3.400l.5 2.500 1.800.8 2.200-1.400 2.400 2.400-1.400 2.200.8 1.800 2.500.5v3.400l-2.500.5-.8 1.800 1.400 2.200-2.400 2.400-2.200-1.400-1.800.8-.5 2.500h-3.400l-.5-2.500-1.800-.8-2.200 1.400-2.400-2.400 1.400-2.200-.8-1.800-2.500-.5v-3.400l2.500-.5.8-1.800-1.400-2.200 2.400-2.400 2.200 1.400 1.800-.8z" transform="translate(12 12) scale(0.86) translate(-12 -12)"/></svg>
<div class="bottom">
<div class="btn" style="left:15px;width:82.500px">Trade</div>
<div class="btn" style="left:103.500px;width:95px">History</div>
<div class="sep"></div>
<div class="btn" style="left:221.500px;width:186px;text-align:left;padding-left:46px">Open Account
<svg style="position:absolute;left:17px;top:12px" width="20" height="20" viewBox="0 0 20 20" fill="none" stroke="#1f2227" stroke-width="1.6" stroke-linecap="round" stroke-linejoin="round"><path d="M10 17.500H4.500a2.500 2.500 0 0 1-2.500-2.500V5.500a2.500 2.500 0 0 1 2.500-2.500h10.500a2.500 2.500 0 0 1 2.500 2.500V10M2 7.500H17.500"/><path d="M15.500 13v5M13 15.500h5" stroke="#1fc995"/></svg></div>
<svg style="position:absolute;left:1776px;top:22.5px" width="90" height="30" viewBox="0 0 90 30" fill="none" stroke="#1f2227" stroke-width="2.200" stroke-linecap="round" stroke-linejoin="round"><path d="M7 20L18.500 8.500L30 20"/><rect x="58" y="7" width="24" height="15.500" rx="3"/></svg>
</div>
<div class="aw1">Activate Windows</div>
<div class="aw2">Go to Settings to activate Windows.</div>
</body></html>
